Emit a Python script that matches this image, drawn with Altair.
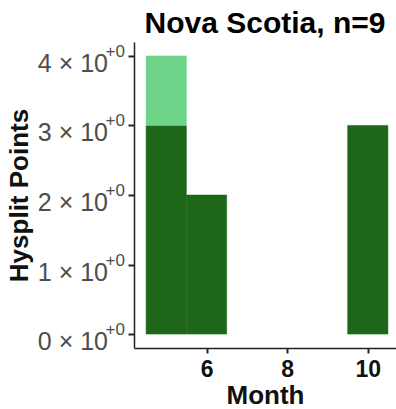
import altair as alt
import pandas as pd

# Monthly counts of HYSPLIT points, two groups
months = [5, 6, 10]
dark_counts = [3, 2, 3]
light_months = [5]
light_counts = [1]

y_ticks = [0, 1, 2, 3, 4]
x_ticks = [6, 8, 10]

DARK = "#1E6618"
LIGHT = "#6DD48A"
FONT = "Liberation Sans"

rows = []
for m, c in zip(months, dark_counts):
    rows.append({"month": m, "lo": 0, "hi": c, "group": "dark"})
base = dict(zip(months, dark_counts))
for m, c in zip(light_months, light_counts):
    b = base.get(m, 0)
    rows.append({"month": m, "lo": b, "hi": b + c, "group": "light"})
df = pd.DataFrame(rows)
df["x0"] = df["month"] - 0.5
df["x1"] = df["month"] + 0.5

group_scale = alt.Scale(domain=["dark", "light"], range=[DARK, LIGHT])
y_scale = alt.Scale(domain=[-0.2, 4.2], nice=False, zero=False)
y_axis = alt.Axis(
    title="Hysplit Points",
    values=y_ticks,
    labels=False,
    grid=False,
    titleFontSize=26,
    titleFont=FONT,
    titleFontWeight="bold",
    titleColor="#111111",
    titlePadding=95,
    tickSize=6,
    tickWidth=2,
    tickColor="#222222",
    domainColor="#222222",
    domainWidth=1.5,
)

bars = (
    alt.Chart(df)
    .mark_rect(strokeWidth=0.5)
    .encode(
        x=alt.X(
            "x0:Q",
            scale=alt.Scale(domain=[4.2, 10.7], nice=False, zero=False),
            axis=alt.Axis(
                title="Month",
                values=x_ticks,
                format="d",
                grid=False,
                labelFontSize=23,
                labelFontWeight="bold",
                labelColor="#111111",
                labelFont=FONT,
                labelPadding=5,
                titleFontSize=26,
                titleFont=FONT,
                titleFontWeight="bold",
                titleColor="#111111",
                titlePadding=1,
                tickSize=5,
                tickWidth=2,
                tickColor="#222222",
                domainColor="#222222",
                domainWidth=1.5,
            ),
        ),
        x2="x1:Q",
        y=alt.Y("lo:Q", scale=y_scale, axis=y_axis),
        y2="hi:Q",
        color=alt.Color("group:N", scale=group_scale, legend=None),
        stroke=alt.Stroke("group:N", scale=group_scale, legend=None),
    )
)

# y tick labels written as mantissa x 10 with a raised exponent
tick_df = pd.DataFrame({"v": y_ticks})
tick_df["main"] = tick_df["v"].astype(str) + " × 10"
tick_df["sup"] = "+0"

mantissa = (
    alt.Chart(tick_df)
    .mark_text(align="right", baseline="alphabetic", fontSize=25, font=FONT,
               color="#4D4D4D", dy=16)
    .encode(x=alt.value(-26), y=alt.Y("v:Q", scale=y_scale, axis=y_axis), text="main:N")
)
exponent = (
    alt.Chart(tick_df)
    .mark_text(align="right", baseline="alphabetic", fontSize=17, font=FONT,
               color="#4D4D4D", dy=1)
    .encode(x=alt.value(-9), y=alt.Y("v:Q", scale=y_scale, axis=y_axis), text="sup:N")
)

chart = (
    alt.layer(bars, mantissa, exponent)
    .properties(
        width=262,
        height=306,
        title=alt.TitleParams(
            "Nova Scotia, n=9",
            fontSize=30,
            fontWeight="bold",
            font=FONT,
            color="#000000",
            anchor="middle",
            offset=3,
        ),
        autosize=alt.AutoSizeParams(type="none"),
        padding={"left": 134, "top": 42, "right": 0, "bottom": 61},
    )
    .configure_view(stroke=None)
)

chart.save("out.html", embed_options={"renderer": "svg", "actions": False})
